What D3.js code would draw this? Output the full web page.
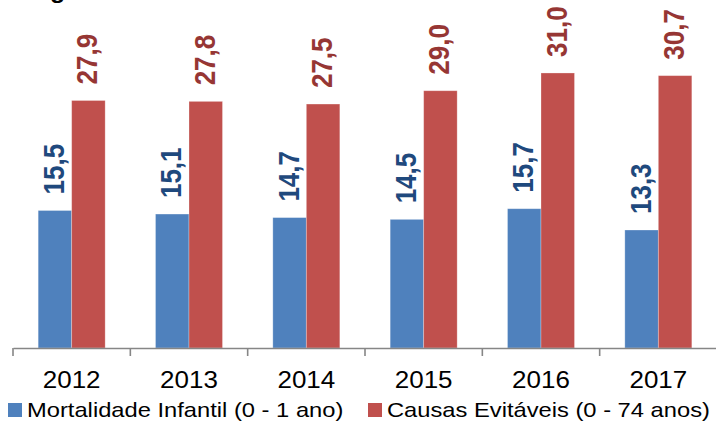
<!DOCTYPE html>
<html>
<head>
<meta charset="utf-8">
<script src="https://cdn.jsdelivr.net/npm/d3@7"></script>
<style>
  body { margin: 0; background: #fff; }
  svg { display: block; font-family: "Liberation Sans", Arial, sans-serif; }
</style>
</head>
<body>
<svg id="chart" width="716" height="421"></svg>
<script>
// dados
var anos = ["2012", "2013", "2014", "2015", "2016", "2017"];
var infantil = [15.5, 15.1, 14.7, 14.5, 15.7, 13.3];
var evitaveis = [27.9, 27.8, 27.5, 29.0, 31.0, 30.7];
var series = ["Mortalidade Infantil (0 - 1 ano)", "Causas Evitáveis (0 - 74 anos)"];
var cores = ["#4F81BD", "#C0504D"];
var coresLabel = ["#1F497D", "#963634"];

var svg = d3.select("#chart");
var stretch = 1.13; // o original está um pouco esticado na horizontal

// titulo cortado no topo
svg.append("text")
    .attr("transform", "translate(50,-2) scale(" + stretch + ",1)")
    .attr("font-size", "22px")
    .attr("font-weight", "bold")
    .attr("fill", "#000")
    .text("g");

var x = d3.scaleBand().domain(anos).range([13, 717]);
var y = d3.scaleLinear().domain([0, 35]).range([348, 37.5]);
var larg = 33.5;

// barras
var dados = [infantil, evitaveis];
dados.forEach(function (vals, s) {
    var g = svg.append("g");
    g.selectAll("rect")
        .data(vals)
        .enter().append("rect")
        .attr("x", function (d, i) { return x(anos[i]) + x.bandwidth() / 2 - larg + s * larg; })
        .attr("y", function (d) { return y(d); })
        .attr("width", larg)
        .attr("height", function (d) { return y(0) - y(d); })
        .attr("fill", cores[s])
        .attr("stroke", "#fff")
        .attr("stroke-opacity", 0.35)
        .attr("stroke-width", 0.8);

    // rotulos
    g.selectAll("text")
        .data(vals)
        .enter().append("text")
        .attr("transform", function (d, i) {
            var cx = x(anos[i]) + x.bandwidth() / 2 - larg / 2 + s * larg + 9;
            return "translate(" + cx + "," + (y(d) - 16) + ") scale(1.15,1) rotate(-90)";
        })
        .attr("font-size", "26px")
        .attr("font-weight", "bold")
        .attr("fill", coresLabel[s])
        .text(function (d) { return d.toFixed(1).replace(".", ","); });
});

// eixo x
var eixo = svg.append("g")
    .attr("transform", "translate(0,348)")
    .call(d3.axisBottom(x).tickSize(0).tickFormat(""));
eixo.select(".domain").attr("stroke", "#868686").attr("stroke-width", 1.6);

var ticks = anos.map(function (a) { return x(a); }).concat([717]);
svg.selectAll(".tick-linha")
    .data(ticks)
    .enter().append("line")
    .attr("class", "tick-linha")
    .attr("x1", function (d) { return d; })
    .attr("x2", function (d) { return d; })
    .attr("y1", 348)
    .attr("y2", 356)
    .attr("stroke", "#868686")
    .attr("stroke-width", 1.6);

svg.selectAll(".ano")
    .data(anos)
    .enter().append("text")
    .attr("class", "ano")
    .attr("transform", function (d) { return "translate(" + (x(d) + x.bandwidth() / 2) + ",388) scale(" + stretch + ",1)"; })
    .attr("text-anchor", "middle")
    .attr("font-size", "23px")
    .attr("fill", "#000")
    .text(function (d) { return d; });

// legenda
var legX = [8, 368];
series.forEach(function (nome, s) {
    svg.append("rect")
        .attr("x", legX[s])
        .attr("y", 403)
        .attr("width", 14)
        .attr("height", 14)
        .attr("fill", cores[s]);
    svg.append("text")
        .attr("transform", "translate(" + (legX[s] + 19) + ",417) scale(" + stretch + ",1)")
        .attr("font-size", "21px")
        .attr("fill", "#000")
        .text(nome);
});
</script>
</body>
</html>
